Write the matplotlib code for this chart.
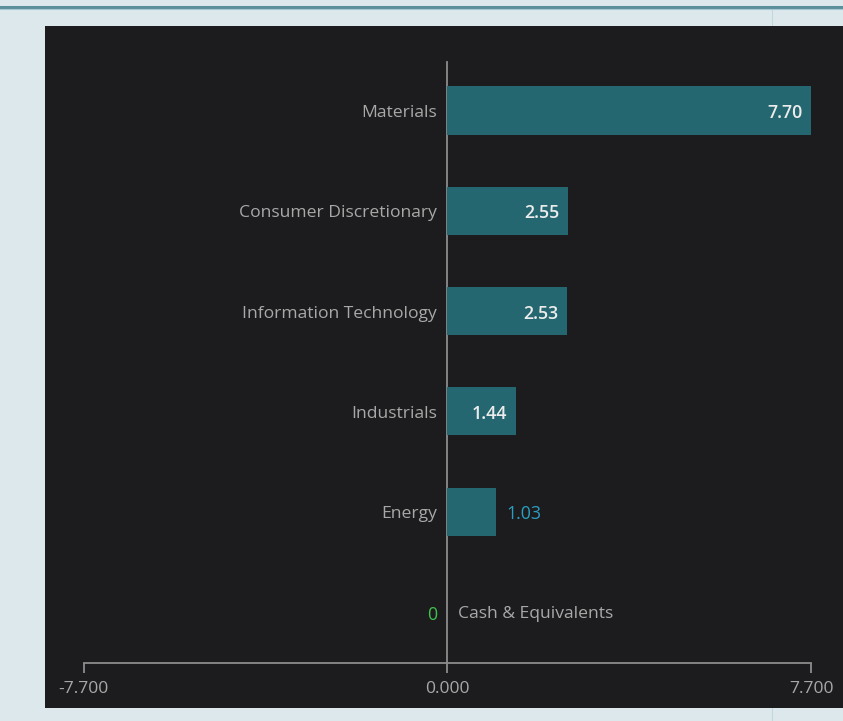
import matplotlib
matplotlib.use("Agg")
import matplotlib.pyplot as plt
from matplotlib.patches import Rectangle
from matplotlib.lines import Line2D

# Sector weights (%)
categories = ["Materials", "Consumer Discretionary", "Information Technology",
              "Industrials", "Energy", "Cash & Equivalents"]
values = [7.70, 2.55, 2.53, 1.44, 1.03, 0.0]
axis_limit = 7.70
tick_values = [-axis_limit, 0.0, axis_limit]
tick_labels = ["-7.700", "0.000", "7.700"]

W, H = 843, 721
PAGE_BG = "#dce8ec"
PANEL_BG = "#1c1c1e"
BAR = "#246770"
GRID = "#8c8c8c"
LABEL = "#a8a8a8"
FONT = ["Open Sans", "DejaVu Sans"]
CAT_SIZE = 12.6
VAL_SIZE = 12.8
DY = -1.8  # nudge labels onto the bar centre line

plt.rcParams["font.family"] = FONT

fig = plt.figure(figsize=(W / 100, H / 100), dpi=100, facecolor=PAGE_BG)

def fx(px):
    return px / W

def fy(py):
    return 1 - py / H

# page chrome: top rule, faint column divider and dark chart panel
fig.add_artist(Line2D([0, 1], [fy(7), fy(7)], color="#5b8f9b", lw=2.2))
fig.add_artist(Line2D([0, 1], [fy(8.8), fy(8.8)], color="#a9c9d2", lw=0.8))
fig.add_artist(Line2D([fx(772), fx(772)], [0, fy(9)], color="#c3d8de", lw=0.8, zorder=0))
fig.add_artist(Rectangle((fx(45), fy(708)), 1 - fx(45), fy(26) - fy(708),
                         transform=fig.transFigure, facecolor=PANEL_BG,
                         edgecolor="none", zorder=1))

px_per_unit = 364 / axis_limit
zero_px = 447.5
ax = fig.add_axes([fx(45), fy(662.5), 1 - fx(45), fy(26) - fy(662.5)])
ax.set_facecolor("none")
ax.set_zorder(2)
ax.set_xlim((45 - zero_px) / px_per_unit, (843 - zero_px) / px_per_unit)

spacing = 100.3
first_px = 110.5
ax.set_ylim((662.5 - first_px) / spacing, (26 - first_px) / spacing)

positions = list(range(len(categories)))
ax.barh(positions, values, height=0.48, color=BAR, edgecolor="none", zorder=3)

for y, name, v in zip(positions, categories, values):
    if v > 0:
        ax.annotate(name, (0, y), xytext=(-7.5, DY), textcoords="offset points",
                    ha="right", va="center", fontsize=CAT_SIZE, color=LABEL)
        if v >= 1.2:
            ax.annotate(f"{v:.2f}", (v, y), xytext=(-6.5, DY), textcoords="offset points",
                        ha="right", va="center", fontsize=VAL_SIZE, color="#ececec",
                        fontweight="semibold", zorder=4)
        else:
            ax.annotate(f"{v:.2f}", (v, y), xytext=(7, DY), textcoords="offset points",
                        ha="left", va="center", fontsize=VAL_SIZE, color="#2b9dc2", zorder=4)
    else:
        ax.annotate(name, (0, y), xytext=(7.5, DY), textcoords="offset points",
                    ha="left", va="center", fontsize=CAT_SIZE, color=LABEL)
        ax.annotate(f"{v:g}", (0, y), xytext=(-7.5, DY), textcoords="offset points",
                    ha="right", va="center", fontsize=VAL_SIZE, color="#3fc24c")

# axis lines
for side in ("top", "right"):
    ax.spines[side].set_visible(False)
ax.spines["bottom"].set_bounds(-axis_limit, axis_limit)
ax.spines["bottom"].set_color(GRID)
ax.spines["bottom"].set_linewidth(1.3)
ax.spines["left"].set_position(("data", 0))
ax.spines["left"].set_bounds(ax.get_ylim()[0], (62 - first_px) / spacing)
ax.spines["left"].set_color(GRID)
ax.spines["left"].set_linewidth(1.3)

ax.set_yticks([])
ax.set_xticks(tick_values)
ax.set_xticklabels(tick_labels)
ax.tick_params(axis="x", direction="out", length=7, width=1.3, color=GRID,
               labelcolor=LABEL, labelsize=12.6, pad=6.5)

fig.savefig("out.png", dpi=100, facecolor=PAGE_BG)
